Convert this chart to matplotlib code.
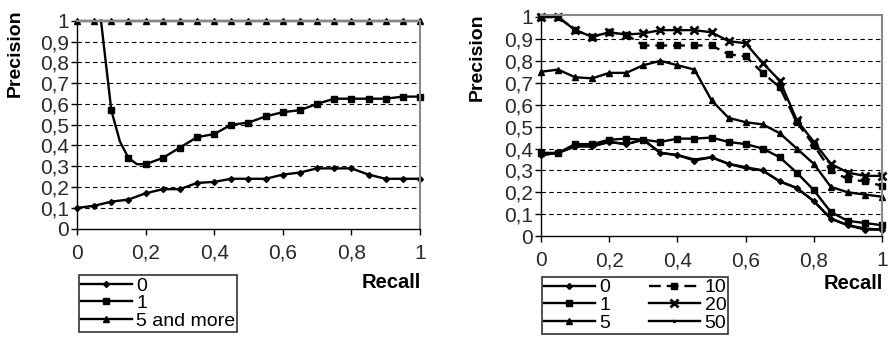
import matplotlib
matplotlib.use("Agg")
import matplotlib.pyplot as plt

plt.rcParams['font.family'] = ['Liberation Sans', 'DejaVu Sans']

# ---- left chart data ----
recall = [0, 0.05, 0.1, 0.15, 0.2, 0.25, 0.3, 0.35, 0.4, 0.45, 0.5,
          0.55, 0.6, 0.65, 0.7, 0.75, 0.8, 0.85, 0.9, 0.95, 1.0]
left_0 = [0.10, 0.11, 0.13, 0.14, 0.17, 0.19, 0.19, 0.22, 0.225, 0.24, 0.24,
          0.24, 0.26, 0.27, 0.29, 0.29, 0.29, 0.26, 0.24, 0.24, 0.24]
left_1_x = [0.07, 0.1, 0.125, 0.15, 0.175, 0.2, 0.25, 0.3, 0.35, 0.4, 0.45, 0.5,
            0.55, 0.6, 0.65, 0.7, 0.75, 0.8, 0.85, 0.9, 0.95, 1.0]
left_1 = [1.0, 0.57, 0.42, 0.34, 0.31, 0.31, 0.34, 0.39, 0.44, 0.455, 0.50, 0.51,
          0.54, 0.56, 0.57, 0.60, 0.625, 0.625, 0.625, 0.625, 0.635, 0.635]
left_5 = [1.0] * 21
left_labels = ['0', '1', '5 and more']

# ---- right chart data ----
right_0 = [0.37, 0.38, 0.41, 0.41, 0.43, 0.42, 0.44, 0.38, 0.37, 0.345, 0.36,
           0.33, 0.315, 0.30, 0.25, 0.22, 0.16, 0.08, 0.05, 0.03, 0.03]
right_1 = [0.38, 0.38, 0.42, 0.42, 0.44, 0.445, 0.44, 0.43, 0.445, 0.445, 0.45,
           0.43, 0.42, 0.40, 0.36, 0.29, 0.21, 0.11, 0.07, 0.06, 0.05]
right_5 = [0.75, 0.76, 0.725, 0.72, 0.745, 0.745, 0.78, 0.80, 0.78, 0.76, 0.62,
           0.54, 0.52, 0.51, 0.47, 0.40, 0.33, 0.225, 0.20, 0.19, 0.18]
right_10 = [1.0, 1.0, 0.94, 0.91, 0.93, 0.92, 0.87, 0.87, 0.87, 0.87, 0.87,
            0.83, 0.82, 0.745, 0.68, 0.52, 0.415, 0.30, 0.26, 0.25, 0.23]
right_20 = [1.0, 1.0, 0.94, 0.91, 0.93, 0.92, 0.925, 0.94, 0.94, 0.94, 0.93,
            0.89, 0.88, 0.79, 0.71, 0.53, 0.43, 0.33, 0.29, 0.275, 0.275]
right_50 = [0.37, 0.38, 0.41, 0.41, 0.43, 0.42, 0.44, 0.38, 0.37, 0.35, 0.36,
            0.33, 0.31, 0.30, 0.25, 0.22, 0.16, 0.08, 0.05, 0.035, 0.03]
right_labels = ['0', '1', '5', '10', '20', '50']

xticks = [0, 0.2, 0.4, 0.6, 0.8, 1.0]
xtick_labels = ['0', '0,2', '0,4', '0,6', '0,8', '1']
yticks = [0, 0.1, 0.2, 0.3, 0.4, 0.5, 0.6, 0.7, 0.8, 0.9, 1.0]
ytick_labels = ['0', '0,1', '0,2', '0,3', '0,4', '0,5', '0,6', '0,7', '0,8', '0,9', '1']

fig = plt.figure(figsize=(8.9, 3.44), dpi=100)
axl = fig.add_axes([0.0865, 0.3352, 0.3854, 0.6046])
axr = fig.add_axes([0.6079, 0.3134, 0.3831, 0.6436])

lw = 1.7
kw = dict(color='black', lw=lw, clip_on=False)


def style(ax, ytop):
    ax.set_xlim(0, 1)
    ax.set_ylim(0, ytop)
    for y in yticks[1:-1]:
        ax.axhline(y, color='black', lw=0.8, ls=(0, (4, 3)), zorder=0)
    ax.set_xticks(xticks)
    ax.set_xticklabels(xtick_labels)
    ax.set_yticks(yticks)
    ax.set_yticklabels(ytick_labels)
    ax.tick_params(direction='out', length=4, width=1, labelsize=15,
                   labelcolor='#2a2a2a', pad=2)
    ax.tick_params(axis='x', pad=7)
    for s in ['left', 'bottom']:
        ax.spines[s].set_color('black')
        ax.spines[s].set_linewidth(1)
    for s in ['top', 'right']:
        ax.spines[s].set_color('#888888')
        ax.spines[s].set_linewidth(1.5)


leg_kw = dict(bbox_transform=fig.transFigure, fontsize=14, frameon=True,
              fancybox=False, edgecolor='#333333', framealpha=1,
              handlelength=2.6, handletextpad=0.25, labelspacing=0.0,
              borderpad=0.1, borderaxespad=0, loc='upper left')

# left chart
style(axl, 1.0)
axl.plot(recall, left_0, marker='D', ms=3, label=left_labels[0], **kw)
axl.plot(left_1_x, left_1, marker='s', ms=4, markevery=[1, 3, 5, 6, 7, 8, 9, 10, 11,
         12, 13, 14, 15, 16, 17, 18, 19, 20, 21], label=left_labels[1], **kw)
axl.plot(recall, left_5, marker='^', ms=4, label=left_labels[2], **kw)
legl = axl.legend(bbox_to_anchor=(0.0888, 0.2006), **leg_kw)
legl.get_frame().set_linewidth(1.2)

# right chart
style(axr, 1.01)
axr.plot(recall, right_0, marker='D', ms=3, label=right_labels[0], **kw)
axr.plot(recall, right_1, marker='s', ms=4, label=right_labels[1], **kw)
axr.plot(recall, right_5, marker='^', ms=4, label=right_labels[2], **kw)
axr.plot(recall, right_10, marker='s', ms=4, ls=(0, (5, 2.5)), label=right_labels[3], **kw)
axr.plot(recall, right_20, marker='x', ms=6, mew=2, label=right_labels[4], **kw)
axr.plot(recall, right_50, marker='.', ms=3, label=right_labels[5], **kw)
legr = axr.legend(bbox_to_anchor=(0.609, 0.195), ncol=2, columnspacing=2.0, **leg_kw)
legr.get_frame().set_linewidth(1.2)

# axis titles
fig.text(0.0169, 0.846, 'Precision', rotation=90, ha='center', va='center',
         fontsize=14, fontweight='bold')
fig.text(0.536, 0.834, 'Precision', rotation=90, ha='center', va='center',
         fontsize=14, fontweight='bold')
fig.text(421 / 890, 0.180, 'Recall', ha='right', va='center',
         fontsize=14.5, fontweight='bold')
fig.text(883 / 890, 0.177, 'Recall', ha='right', va='center',
         fontsize=14.5, fontweight='bold')

fig.savefig('out.png', dpi=100)
